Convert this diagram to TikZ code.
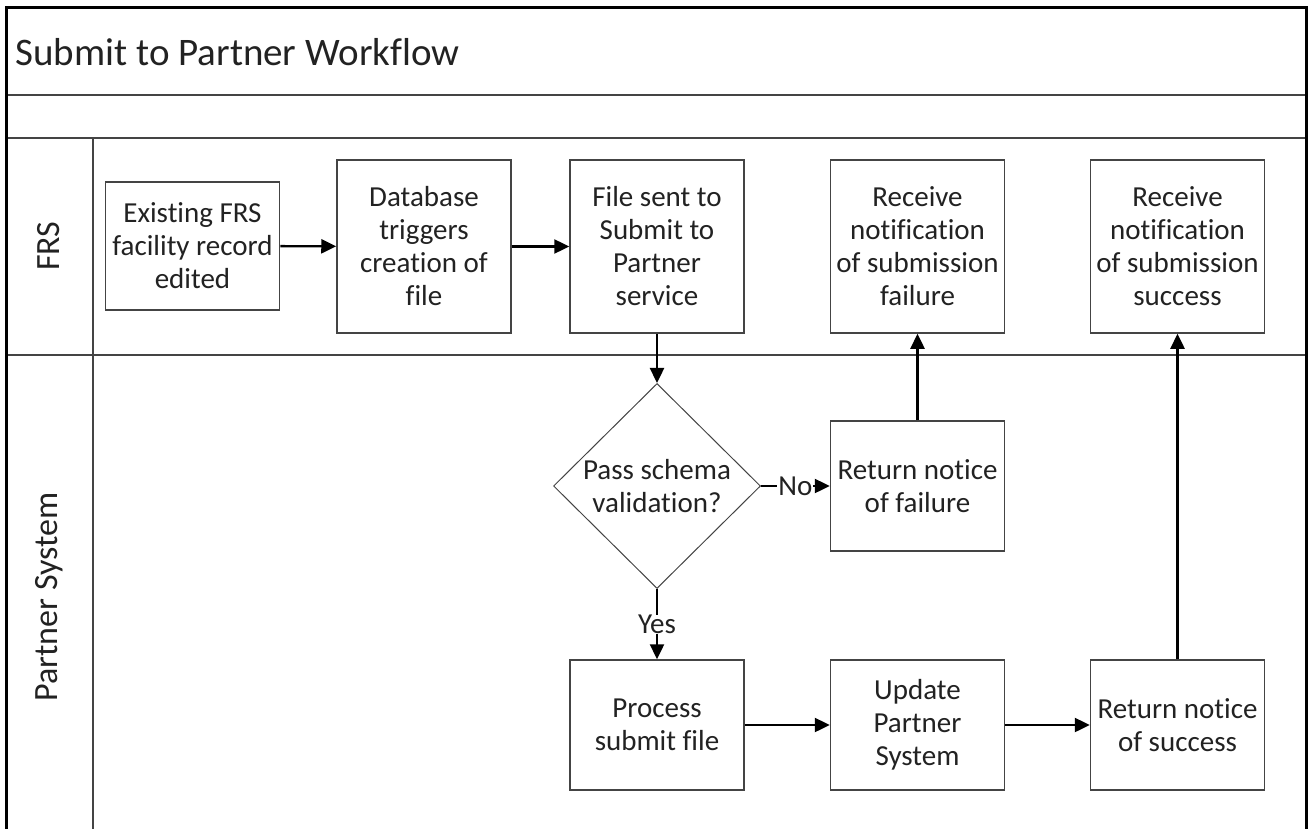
\documentclass[tikz,border=0pt]{standalone}
\usepackage{fontspec}
\setmainfont{Carlito}[Ligatures=NoCommon]
\usetikzlibrary{arrows.meta,shapes.geometric}
\definecolor{ink}{HTML}{222222}
\definecolor{rule}{HTML}{444444}
\tikzset{
  procbox/.style={draw=rule, line width=1.5pt, fill=white, minimum width=174pt,
    minimum height=173pt, inner sep=0pt, align=center, text=ink,
    font=\fontsize{29}{33}\selectfont},
  decision/.style={draw=rule, line width=1pt, diamond, aspect=1, minimum width=207pt,
    minimum height=205pt, inner sep=0pt, align=center, text=ink,
    font=\fontsize{29}{33}\selectfont},
  flow/.style={line width=2.4pt, draw=black, -{Triangle[length=15pt,width=14pt]}},
  lanetext/.style={rotate=90, text=ink, font=\fontsize{34}{40}\selectfont},
  branch/.style={fill=white, inner sep=1pt, text=ink, font=\fontsize{29}{33}\selectfont}
}
\begin{document}
\begin{tikzpicture}[x=1pt, y=-1pt]
\useasboundingbox (0,0) rectangle (1308,829);
% pool frame and lane separators
\draw[rule, line width=1.5pt] (6,95) -- (1306,95);
\draw[rule, line width=1.5pt] (6,138) -- (1306,138);
\draw[rule, line width=1.5pt] (6,355) -- (1306,355);
\draw[rule, line width=1.5pt] (93,138) -- (93,829);
\draw[black, line width=3pt] (6,829) -- (6,8) -- (1306,8) -- (1306,829);
\node[anchor=west, text=ink, font=\fontsize{39}{44}\selectfont] (title) at (12,52) {Submit to Partner Workflow};
\node[lanetext] (lfrs) at (49,246) {FRS};
\node[lanetext] (lps) at (49,597) {Partner System};
% FRS lane
\node[procbox, minimum height=128pt] (ex) at (192.5,246) {Existing FRS\\facility record\\edited};
\node[procbox] (db) at (424,246.5) {Database\\triggers\\creation of\\file};
\node[procbox] (fs) at (657,246.5) {File sent to\\Submit to\\Partner\\service};
\node[procbox] (rf) at (917.5,246.5) {Receive\\notification\\of submission\\failure};
\node[procbox] (rs) at (1177.5,246.5) {Receive\\notification\\of submission\\success};
% Partner System lane
\node[decision] (dv) at (657,486) {Pass schema\\validation?};
\node[procbox, minimum height=130pt] (nf) at (917.5,486) {Return notice\\of failure};
\node[procbox, minimum height=130pt] (pf) at (657,725) {Process\\submit file};
\node[procbox, minimum height=130pt] (up) at (917.5,725) {Update\\Partner\\System};
\node[procbox, minimum height=130pt] (ns) at (1177.5,725) {Return notice\\of success};
% connectors
\draw[flow] (ex) -- (db);
\draw[flow] (db) -- (fs);
\draw[flow] (fs) -- (dv);
\draw[flow] (dv.east) -- node[branch]{No} (nf.west);
\draw[flow] (dv.south) -- node[branch, inner sep=0pt]{Yes} (pf.north);
\draw[flow] (nf) -- (rf);
\draw[flow] (pf) -- (up);
\draw[flow] (up) -- (ns);
\draw[flow] (ns) -- (rs);
\end{tikzpicture}
\end{document}
